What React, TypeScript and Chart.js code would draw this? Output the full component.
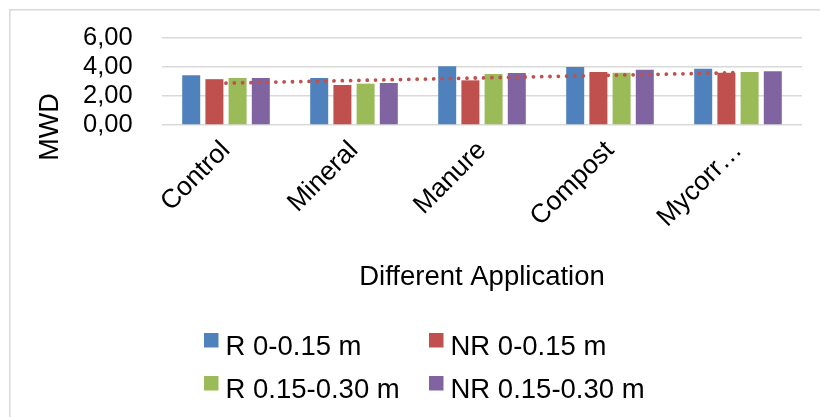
import React, { useEffect, useRef } from 'react';
import { Chart, registerables } from 'chart.js';

Chart.register(...registerables);

// ---- data ----
const categories = ['Control', 'Mineral', 'Manure', 'Compost', 'Mycorr…'];
const seriesNames = ['R 0-0.15 m', 'NR 0-0.15 m', 'R 0.15-0.30 m', 'NR 0.15-0.30 m'];
const rTop = [3.43, 3.24, 4.05, 4.0, 3.88];
const nrTop = [3.16, 2.76, 3.08, 3.66, 3.61];
const rSub = [3.24, 2.85, 3.52, 3.61, 3.66];
const nrSub = [3.24, 2.9, 3.59, 3.81, 3.7];
const trendNRTop = [2.89, 3.07, 3.25, 3.43, 3.61];
const yTickValues = [0, 2, 4, 6];
const yTitle = 'MWD';
const xTitle = 'Different Application';

const colors = ['#4F81BD', '#C0504D', '#9BBB59', '#8064A2'];
const FONT = "'Liberation Sans', Arial, sans-serif";

const fmt = (v: number) => v.toFixed(2).replace('.', ',');

const decor = {
  id: 'decor',
  beforeDraw(chart: any) {
    const ctx = chart.ctx;
    ctx.save();
    ctx.fillStyle = '#ffffff';
    ctx.fillRect(0, 0, chart.width, chart.height);
    ctx.fillStyle = '#D9D9D9';
    ctx.fillRect(9, 9, chart.width - 9, 1.5);
    ctx.fillRect(9, 9, 1.5, chart.height - 9);
    ctx.restore();
  },
  afterDraw(chart: any) {
    const ctx = chart.ctx;
    const area = chart.chartArea;
    ctx.save();
    ctx.fillStyle = '#000';
    // y title
    ctx.font = `27px ${FONT}`;
    ctx.textAlign = 'center';
    ctx.textBaseline = 'alphabetic';
    ctx.save();
    ctx.translate(58, 127);
    ctx.rotate(-Math.PI / 2);
    ctx.fillText(yTitle, 0, 0);
    ctx.restore();
    // x title
    ctx.font = `27.5px ${FONT}`;
    ctx.fillText(xTitle, (area.left + area.right) / 2, 285);
    // legend (2x2 grid)
    const cols = [204, 429];
    const rows = [355, 398];
    ctx.textAlign = 'left';
    seriesNames.forEach((name, i) => {
      const cx = cols[i % 2];
      const by = rows[Math.floor(i / 2)];
      ctx.fillStyle = colors[i];
      ctx.fillRect(cx, by - 22, 14.5, 14.5);
      ctx.fillStyle = '#000';
      ctx.fillText(name, cx + 21.5, by);
    });
    ctx.restore();
  },
};

export default function App() {
  const ref = useRef<HTMLCanvasElement | null>(null);
  useEffect(() => {
    if (!ref.current) return;
    const barData = [rTop, nrTop, rSub, nrSub];
    const chart = new Chart(ref.current, {
      type: 'bar',
      data: {
        labels: categories,
        datasets: [
          {
            type: 'line',
            label: 'Linear (NR 0-0.15 m)',
            data: trendNRTop,
            borderColor: '#C0504D',
            borderWidth: 3.8,
            borderDash: [0.01, 8.3],
            borderCapStyle: 'round',
            pointRadius: 0,
            fill: false,
            tension: 0,
            order: 0,
          } as any,
          ...barData.map((d, i) => ({
            type: 'bar',
            label: seriesNames[i],
            data: d,
            backgroundColor: colors[i],
            borderWidth: 0,
            categoryPercentage: 0.725,
            barPercentage: 0.776,
            order: 1,
          })),
        ],
      },
      options: {
        animation: false,
        responsive: false,
        devicePixelRatio: 1,
        layout: { padding: { top: 38, right: 18, left: 83, bottom: 0 } },
        plugins: { legend: { display: false }, tooltip: { enabled: false } },
        scales: {
          x: {
            grid: { display: false },
            border: { display: false },
            ticks: {
              color: '#000',
              font: { family: FONT, size: 26.5 },
              maxRotation: 45,
              minRotation: 45,
              autoSkip: false,
              padding: 2,
            },
            afterFit: (s: any) => {
              s.height = 292;
            },
          },
          y: {
            min: 0,
            max: 6,
            afterBuildTicks: (s: any) => {
              s.ticks = yTickValues.map((v) => ({ value: v }));
            },
            ticks: {
              color: '#000',
              font: { family: FONT, size: 25.5 },
              padding: 0,
              crossAlign: 'far',
              autoSkip: false,
              callback: (v: any) => fmt(Number(v)),
            },
            grid: { color: '#D9D9D9', lineWidth: 1.5, drawTicks: false },
            border: { display: false },
            afterFit: (s: any) => {
              s.width = 79;
            },
          },
        },
      } as any,
      plugins: [decor],
    });
    return () => chart.destroy();
  }, []);
  return (
    <div style={{ position: 'fixed', left: 0, top: 0, width: 820, height: 417, background: '#fff' }}>
      <canvas ref={ref} width={820} height={417} style={{ width: 820, height: 417, display: 'block' }} />
    </div>
  );
}
